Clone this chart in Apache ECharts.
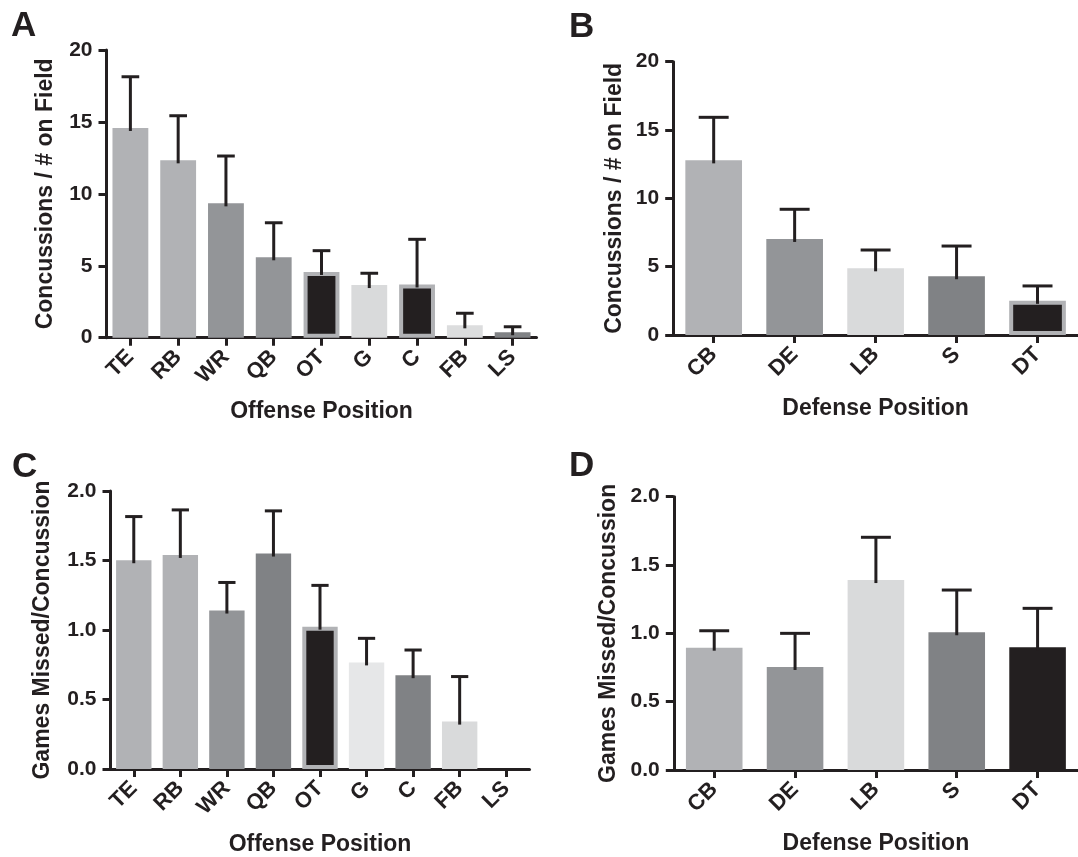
<!DOCTYPE html>
<html>
<head>
<meta charset="utf-8">
<script src="https://cdn.jsdelivr.net/npm/echarts@6/dist/echarts.min.js"></script>
<style>
  html, body { margin: 0; padding: 0; background: #fff; }
  #chart { width: 1078px; height: 857px; }
</style>
</head>
<body>
<div id="chart"></div>
<script>
// positions
const offensePos = ['TE', 'RB', 'WR', 'QB', 'OT', 'G', 'C', 'FB', 'LS'];
const defensePos = ['CB', 'DE', 'LB', 'S', 'DT'];

// A: concussions / # on field, offense (mean + SEM)
const offConcMean = [14.58, 12.33, 9.34, 5.59, 4.57, 3.66, 3.70, 0.86, 0.38];
const offConcSem = [3.56, 3.10, 3.29, 2.40, 1.48, 0.82, 3.14, 0.84, 0.38];
// B: concussions / # on field, defense
const defConcMean = [12.78, 7.03, 4.88, 4.30, 2.50];
const defConcSem = [3.15, 2.17, 1.34, 2.21, 1.09];
// C: games missed / concussion, offense
const offGamesMean = [1.502, 1.540, 1.140, 1.550, 1.024, 0.767, 0.675, 0.341, 0];
const offGamesSem = [0.314, 0.324, 0.202, 0.307, 0.297, 0.173, 0.181, 0.324, 0];
// D: games missed / concussion, defense
const defGamesMean = [0.895, 0.754, 1.390, 1.008, 0.898];
const defGamesSem = [0.124, 0.246, 0.313, 0.309, 0.285];

const yTicksConc = [0, 5, 10, 15, 20];
const yTicksGames = [0, 0.5, 1.0, 1.5, 2.0];

// bar colours (fill / outline)
const ink = '#231f20';
const g1 = '#b1b2b5', g2 = '#939598', g3 = '#808285', g4 = '#d9dadb', g5 = '#e6e7e8';
const fillA = [g1, g1, g2, g2, ink, g4, ink, '#dcddde', g3];
const edgeA = [null, null, null, null, g1, null, g1, null, null];
const fillB = [g1, g2, g4, g3, ink];
const edgeB = [null, null, null, null, g1];
const fillC = [g1, g1, g2, g3, ink, g5, g3, g4, g4];
const edgeC = [null, null, null, null, g1, null, null, null, null];
const fillD = [g1, g2, g4, g3, ink];
const edgeD = [null, null, null, null, null];

const FONT = '"Liberation Sans", Arial, sans-serif';

const panels = [
  { letter: 'A', cats: offensePos, mean: offConcMean, sem: offConcSem, fill: fillA, edge: edgeA,
    ticks: yTicksConc, dec: 0, yName: 'Concussions / # on Field', xName: 'Offense Position',
    grid: { left: 106.5, top: 50, width: 430, height: 287.7 }, gap: '25%', yGap: 49, xGap: 62, pos: [11, 26] },
  { letter: 'B', cats: defensePos, mean: defConcMean, sem: defConcSem, fill: fillB, edge: edgeB,
    ticks: yTicksConc, dec: 0, yName: 'Concussions / # on Field', xName: 'Defense Position',
    grid: { left: 673.2, top: 61.7, width: 410, height: 273.3 }, gap: '30%', yGap: 47, xGap: 62, pos: [569, 27] },
  { letter: 'C', cats: offensePos, mean: offGamesMean, sem: offGamesSem, fill: fillC, edge: edgeC,
    ticks: yTicksGames, dec: 1, yName: 'Games Missed/Concussion', xName: 'Offense Position',
    grid: { left: 110.5, top: 491, width: 419, height: 279.7 }, gap: '24%', yGap: 56, xGap: 64, pos: [12, 467] },
  { letter: 'D', cats: defensePos, mean: defGamesMean, sem: defGamesSem, fill: fillD, edge: edgeD,
    ticks: yTicksGames, dec: 1, yName: 'Games Missed/Concussion', xName: 'Defense Position',
    grid: { left: 673.8, top: 496.7, width: 410, height: 273.3 }, gap: '30%', yGap: 54, xGap: 62, pos: [569, 466] }
];

const axisLine = { show: true, lineStyle: { color: ink, width: 3 } };
const axisTick = { show: true, length: 8, lineStyle: { color: ink, width: 3 } };
const labelStyle = { color: ink, fontWeight: 'bold', fontFamily: FONT };
const nameStyle = { color: ink, fontSize: 23, fontWeight: 'bold', fontFamily: FONT };

const option = {
  animation: false,
  backgroundColor: '#fff',
  grid: [], xAxis: [], yAxis: [], series: [], graphic: []
};

panels.forEach((p, k) => {
  option.grid.push(p.grid);
  option.xAxis.push({
    type: 'category', gridIndex: k, data: p.cats,
    axisLine, axisTick: { ...axisTick, alignWithLabel: true },
    axisLabel: { ...labelStyle, fontSize: 22, rotate: 45, margin: 16, interval: 0 },
    name: p.xName, nameLocation: 'middle', nameGap: p.xGap, nameTextStyle: nameStyle
  });
  option.yAxis.push({
    type: 'value', gridIndex: k,
    min: p.ticks[0], max: p.ticks[p.ticks.length - 1], interval: p.ticks[1] - p.ticks[0],
    axisLine, axisTick, splitLine: { show: false },
    axisLabel: { ...labelStyle, fontSize: 21, margin: 14, formatter: v => v.toFixed(p.dec) },
    name: p.yName, nameLocation: 'middle', nameGap: p.yGap, nameTextStyle: nameStyle
  });
  option.series.push({
    type: 'bar', xAxisIndex: k, yAxisIndex: k, barCategoryGap: p.gap, z: 1,
    data: p.mean.map((m, i) => ({
      value: m,
      itemStyle: p.edge[i]
        ? { color: p.fill[i], borderColor: p.edge[i], borderWidth: 4 }
        : { color: p.fill[i] }
    }))
  });
  option.series.push({
    type: 'custom', xAxisIndex: k, yAxisIndex: k, z: 3,
    encode: { x: 0, y: [1, 2] },
    data: p.mean.map((m, i) => [i, m, m + p.sem[i]]).filter(d => d[2] > d[1]),
    renderItem: (params, api) => {
      const i = api.value(0);
      const hi = api.coord([i, api.value(2)]);
      const lo = api.coord([i, api.value(1)]);
      const half = api.size([1, 0])[0] * 0.37 / 2;
      const st = { stroke: ink, lineWidth: 3 };
      return {
        type: 'group',
        children: [
          { type: 'line', shape: { x1: hi[0], y1: hi[1], x2: lo[0], y2: lo[1] + 3 }, style: st },
          { type: 'line', shape: { x1: hi[0] - half, y1: hi[1], x2: hi[0] + half, y2: hi[1] }, style: st }
        ]
      };
    }
  });
  option.graphic.push({
    type: 'text', left: p.pos[0], top: p.pos[1] - 17,
    style: { text: p.letter, fill: ink, font: 'bold 35px ' + FONT }
  });
});

const chart = echarts.init(document.getElementById('chart'), null, { renderer: 'canvas' });
chart.setOption(option);
</script>
</body>
</html>
